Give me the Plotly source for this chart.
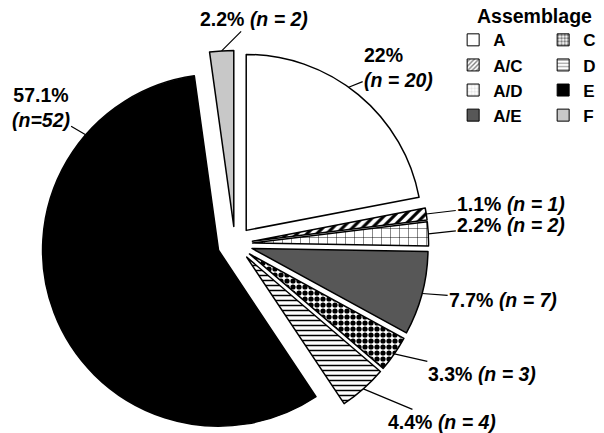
import math
import plotly.graph_objects as go

# Assemblage counts, clockwise from 12 o'clock
labels = ["A", "A/C", "A/D", "A/E", "C", "D", "E", "F"]
counts = [20, 1, 2, 7, 3, 4, 52, 2]
pct_text = ["22%", "1.1%", "2.2%", "7.7%", "3.3%", "4.4%", "57.1%", "2.2%"]
n_text = ["(n = 20)", "(n = 1)", "(n = 2)", "(n = 7)",
          "(n = 3)", "(n = 4)", "(n=52)", "(n = 2)"]
legend_title = "Assemblage"

# fill styles
fills = ["white", "white", "white", "#575757", "white", "white", "black", "#c8c8c8"]
shapes = ["", "/", "+", "", ".", "-", "", ""]
pat_size = [8, 7, 9, 8, 6, 5, 8, 8]
pat_sol = [0.3, 0.45, 0.1, 0.3, 0.6, 0.3, 0.3, 0.3]

# label styling: line break, where along the slice the leader line ends,
# and text offset (px) from that point
two_lines = [True, False, False, False, False, False, True, False]
anchor_frac = [0.45, 0.5, 0.5, 0.5, 0.5, 0.5, 0.8, 0.5]
offsets = [(50, -20), (85, -10), (83, -9), (81, 6), (88, 20), (79, 33), (-45, -27), (32, -32)]
aligns = ["left", "center", "center", "center", "center", "center", "center", "center"]

W, H = 604, 433
pull = 0.1
dom_x = [33 / W, 421 / W]
dom_y = [0.008, 0.9022]

fig = go.Figure()

fig.add_trace(go.Pie(
    labels=labels,
    values=counts,
    textinfo="none",
    sort=False,
    direction="clockwise",
    rotation=0,
    pull=[pull] * len(labels),
    marker=dict(
        colors=fills,
        line=dict(color="black", width=1.5),
        pattern=dict(shape=shapes, fgcolor="black", bgcolor=fills,
                     size=pat_size, solidity=pat_sol),
    ),
    showlegend=False,
    hoverinfo="label+value+percent",
    domain=dict(x=dom_x, y=dom_y),
))

# same geometry plotly uses for the pie, to hook the leader lines on the arcs
box_w = W * (dom_x[1] - dom_x[0])
box_h = H * (dom_y[1] - dom_y[0])
r = min(box_w, box_h) / 2 / (1 + pull)
cx = W * (dom_x[0] + dom_x[1]) / 2
cy = H * (1 - dom_y[0]) - box_h / 2

total = sum(counts)
cum = 0
for i, v in enumerate(counts):
    a0 = cum / total * 2 * math.pi
    a1 = (cum + v) / total * 2 * math.pi
    cum += v
    mid = (a0 + a1) / 2
    ang = a0 + anchor_frac[i] * (a1 - a0)
    sx = cx + pull * r * math.sin(mid)
    sy = cy - pull * r * math.cos(mid)
    px_ = sx + r * math.sin(ang)
    py_ = sy - r * math.cos(ang)
    sep = "<br>" if two_lines[i] else " "
    txt = f"<b>{pct_text[i]}{sep}<i>{n_text[i]}</i></b>"
    fig.add_annotation(
        x=px_ / W, y=1 - py_ / H, xref="paper", yref="paper",
        text=txt, showarrow=True, arrowhead=0, arrowwidth=1.2,
        arrowcolor="black", ax=offsets[i][0], ay=offsets[i][1],
        align=aligns[i], standoff=0, startstandoff=0,
        font=dict(family="Liberation Sans, Arial", size=19.5, color="black"),
    )

# legend entries in two columns (A..A/E, C..F)
for i, lab in enumerate(labels):
    grp = "g1" if i < 4 else "g2"
    fig.add_trace(go.Bar(
        x=[None], y=[None], name=lab,
        legendgroup=grp,
        marker=dict(color=fills[i], line=dict(color="black", width=1),
                    pattern=dict(shape=shapes[i], fgcolor="black",
                                 bgcolor=fills[i], size=4, solidity=pat_sol[i])),
    ))

# legend heading
fig.add_annotation(
    x=0.8725, y=0.981, xref="paper", yref="paper",
    xanchor="center", yanchor="middle", showarrow=False,
    text=f"<b>{legend_title}</b>",
    font=dict(family="Liberation Sans, Arial", size=19.5, color="black"),
)

fig.update_layout(
    width=W, height=H,
    margin=dict(l=0, r=0, t=0, b=0, autoexpand=False),
    paper_bgcolor="white", plot_bgcolor="white",
    font=dict(family="Liberation Sans, Arial", size=17, color="black"),
    xaxis=dict(visible=False), yaxis=dict(visible=False),
    legend=dict(
        orientation="h", traceorder="grouped",
        x=0.737, y=0.967, xanchor="left", yanchor="top",
        font=dict(size=17, weight="bold"), itemwidth=30, tracegroupgap=6,
        entrywidth=45,
        bgcolor="rgba(0,0,0,0)",
    ),
)

fig.write_html("out.html")
